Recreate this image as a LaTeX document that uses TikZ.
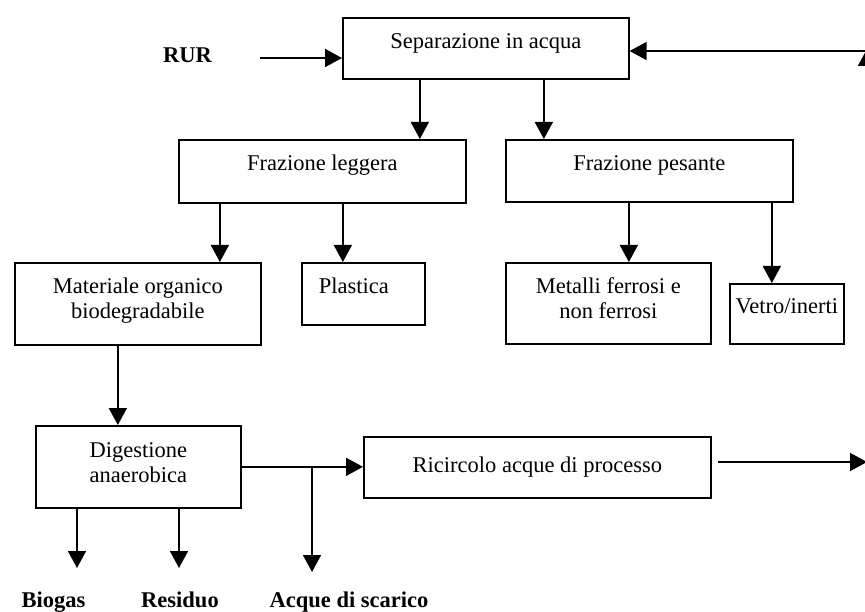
\documentclass[tikz,border=0pt]{standalone}
\usepackage{fontspec}
\setmainfont{Liberation Serif}
\usetikzlibrary{arrows.meta}
\begin{document}
\begin{tikzpicture}[x=1pt,y=-1pt,
  box/.style={draw, line width=1.7pt, inner sep=0pt, anchor=north west, font=\fontsize{22.5}{25}\selectfont},
  arr/.style={line width=1.7pt, -{Triangle[length=17pt,width=18pt]}},
  lbl/.style={font=\fontsize{22.5}{25}\selectfont\bfseries, anchor=base, inner sep=0pt}]
\useasboundingbox (0,0) rectangle (865,612);
\clip (0,0) rectangle (865,612);
\fill[white] (0,0) rectangle (865,612);

% boxes
\node[box, minimum width=286pt, text height=31pt, text depth=30pt] (sep) at (342,17) {Separazione in acqua};
\node[box, minimum width=287pt, text height=31pt, text depth=32pt] (fl) at (178,139) {Frazione leggera};
\node[box, minimum width=287pt, text height=31pt, text depth=31pt] (fp) at (505,139) {Frazione pesante};
\node[box, minimum width=246pt, text height=31pt, text depth=51pt] (mat) at (14,262)
  {\begin{tabular}[t]{@{}c@{}}Materiale organico\\biodegradabile\end{tabular}};
\node[box, text height=31pt, text depth=31pt] (pla) at (301,262) {\makebox[123pt][l]{\hspace{17pt}Plastica}};
\node[box, minimum width=205pt, text height=31pt, text depth=50pt] (met) at (505,262)
  {\begin{tabular}[t]{@{}c@{}}Metalli ferrosi e\\non ferrosi\end{tabular}};
\node[box, minimum width=114pt, text height=30pt, text depth=30pt] (vet) at (729,283) {Vetro/inerti};
\node[box, minimum width=205pt, text height=32pt, text depth=50pt] (dig) at (35,425)
  {\begin{tabular}[t]{@{}c@{}}Digestione\\anaerobica\end{tabular}};
\node[box, minimum width=347pt, text height=36pt, text depth=25pt] (ric) at (363,436) {Ricircolo acque di processo};

% labels
\node[lbl] (rur) at (187.5,63) {RUR};
\node[lbl] (bio) at (53.5,607) {Biogas};
\node[lbl] (res) at (180,607) {Residuo};
\node[lbl] (acq) at (349,607) {Acque di scarico};

% free ends
\coordinate (rurs) at (260,58);
\coordinate (topr) at (867,51);
\coordinate (upb) at (867,120);
\coordinate (upt) at (867,49);
\coordinate (j) at (312,466);
\coordinate (je) at (312,572);
\coordinate (bioe) at (77,568);
\coordinate (rese) at (179,568);
\coordinate (rs) at (718,462);
\coordinate (re) at (867,462);

% connectors
\draw[arr] (rurs) -- (rurs -| sep.west);
\draw[arr] (topr) -- (topr -| sep.east);
\draw[arr] (upb) -- (upt);
\draw[arr] ([xshift=-66pt]sep.south) -- ([xshift=-66pt]sep.south |- fl.north);
\draw[arr] ([xshift=58pt]sep.south) -- ([xshift=58pt]sep.south |- fp.north);
\draw[arr] ([xshift=-102.5pt]fl.south) -- ([xshift=-102.5pt]fl.south |- mat.north);
\draw[arr] ([xshift=20.5pt]fl.south) -- ([xshift=20.5pt]fl.south |- pla.north);
\draw[arr] ([xshift=-20.5pt]fp.south) -- ([xshift=-20.5pt]fp.south |- met.north);
\draw[arr] ([xshift=122.5pt]fp.south) -- ([xshift=122.5pt]fp.south |- vet.north);
\draw[arr] ([xshift=-20pt]mat.south) -- ([xshift=-20pt]mat.south |- dig.north);
\draw[arr] (dig.east) -- (dig.east -| ric.west);
\draw[arr] (j) -- (je);
\draw[arr] (dig.south -| bioe) -- (bioe);
\draw[arr] (dig.south -| rese) -- (rese);
\draw[arr] (rs) -- (re);
\end{tikzpicture}
\end{document}
